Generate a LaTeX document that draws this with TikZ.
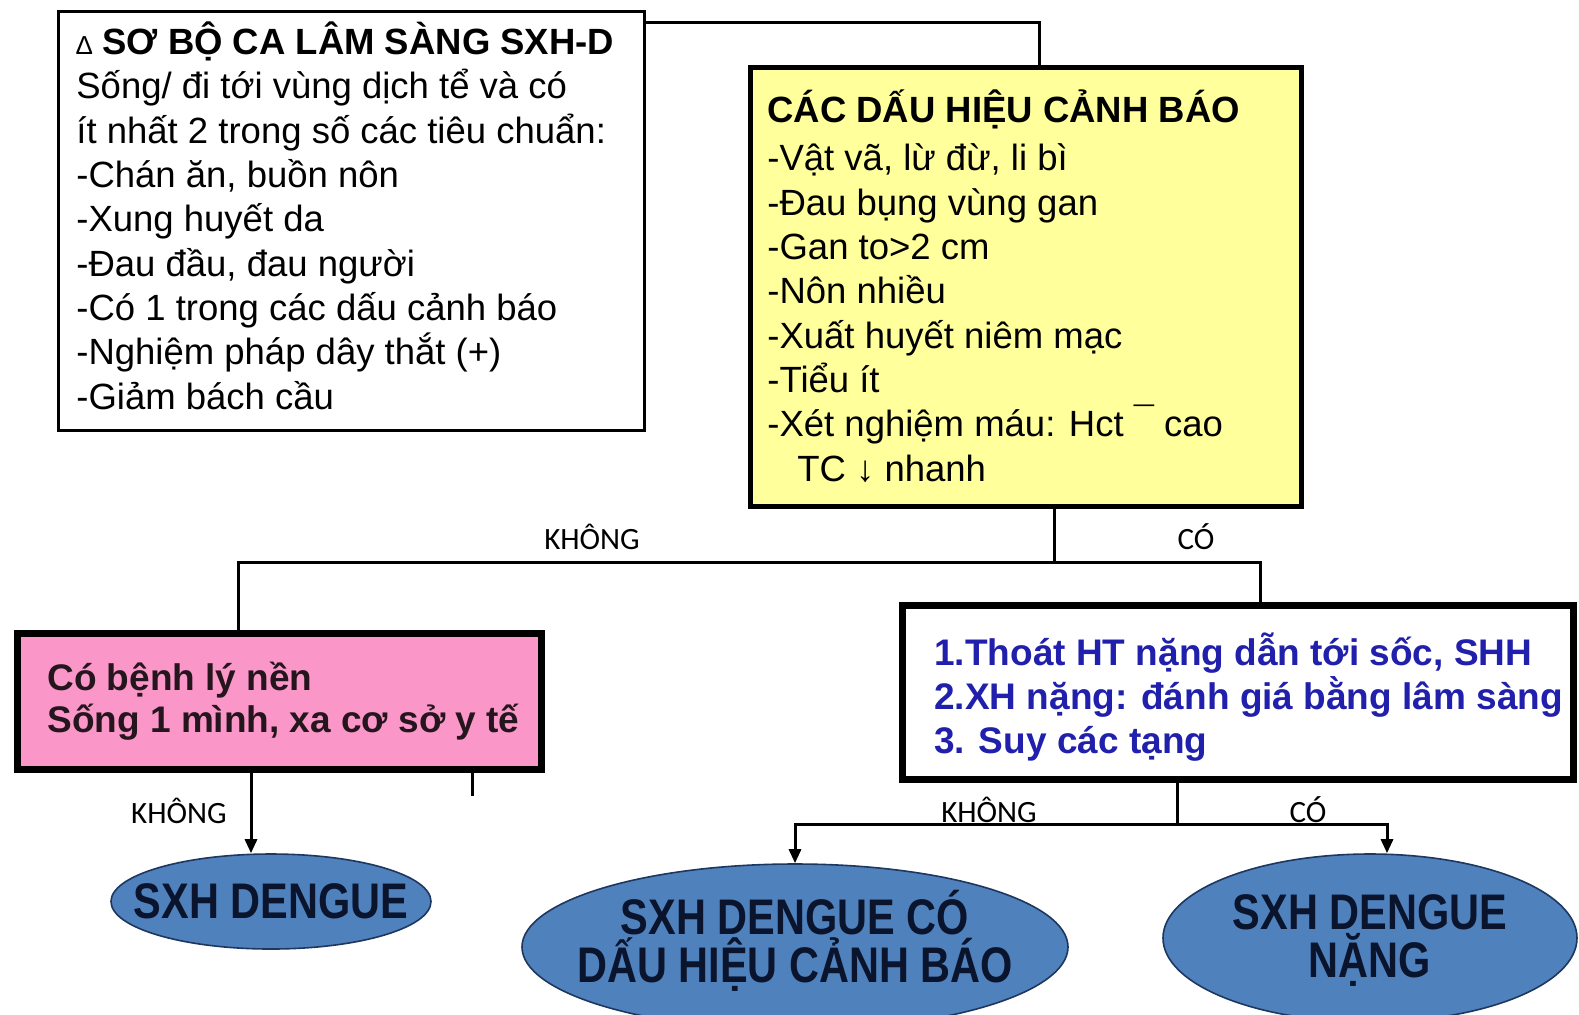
\documentclass[tikz,border=0pt]{standalone}
\usepackage{fontspec}
\setmainfont{Liberation Sans}
\newfontfamily\ellfont[FakeStretch=0.83]{Liberation Sans}
\newfontfamily\lblfont{Carlito}
\usetikzlibrary{arrows.meta,shapes.geometric}
\definecolor{yelfill}{RGB}{255,255,155}
\definecolor{pinkfill}{RGB}{250,150,200}
\definecolor{ellfill}{RGB}{79,129,189}
\definecolor{elledge}{RGB}{30,55,95}
\definecolor{elltext}{RGB}{10,20,45}
\definecolor{bluetext}{RGB}{32,32,172}
\tikzset{
  boxbase/.style={draw=black, rectangle, inner sep=0pt},
  conn/.style={draw=black, line width=1.5pt},
  arr/.style={conn, -{Triangle[length=7pt,width=6pt]}},
  boxtext/.style={anchor=base west, align=left, inner sep=0pt},
  ellnode/.style={ellipse, draw=elledge, line width=0.8pt, fill=ellfill, inner sep=0pt},
  elltxt/.style={inner sep=0pt, text=elltext, align=center, font=\ellfont\bfseries\fontsize{25pt}{24pt}\selectfont},
  lbl/.style={inner sep=0pt, font=\lblfont\fontsize{15.5pt}{16pt}\selectfont}
}
\begin{document}
\begin{tikzpicture}[x=0.5pt,y=-0.5pt]
\useasboundingbox (0,0) rectangle (1579,1014);
\clip (0,0) rectangle (1579,1014);
\fill[white] (0,0) rectangle (1579,1014);

% boxes
\node[boxbase, line width=1.5pt, fill=white, minimum width=293pt, minimum height=209.5pt] (b1) at (351,220.5) {};
\node[boxbase, line width=2.5pt, fill=yelfill, minimum width=275.5pt, minimum height=219.5pt] (yel) at (1026,287) {};
\node[boxbase, line width=3.5pt, fill=pinkfill, minimum width=262pt, minimum height=68pt] (pink) at (279.5,701.5) {};
\node[boxbase, line width=3.5pt, fill=white, minimum width=335.5pt, minimum height=87pt] (b2) at (1238,692.5) {};

% box texts (anchored at the baseline of the last line)
\node[boxtext, font=\fontsize{18.25pt}{22.15pt}\selectfont] (b1t) at (76,409)
{{\fontsize{13pt}{13pt}\selectfont ∆} \textbf{SƠ BỘ CA LÂM SÀNG SXH-D}\\
Sống/ đi tới vùng dịch tể và có\\
ít nhất 2 trong số các tiêu chuẩn:\\
-Chán ăn, buồn nôn\\
-Xung huyết da\\
-Đau đầu, đau người\\
-Có 1 trong các dấu cảnh báo\\
-Nghiệm pháp dây thắt (+)\\
-Giảm bách cầu};

\node[boxtext, font=\fontsize{18.25pt}{22.15pt}\selectfont] (yt) at (767,481)
{\textbf{CÁC DẤU HIỆU CẢNH BÁO}\\[2pt]
-Vật vã, lừ đừ, li bì\\
-Đau bụng vùng gan\\
-Gan to>2 cm\\
-Nôn nhiều\\
-Xuất huyết niêm mạc\\
-Tiểu ít\\
-Xét nghiệm máu: Hct \raisebox{2pt}{¯} cao\\
\hspace*{15pt}TC ↓ nhanh};

\node[boxtext, font=\bfseries\fontsize{18.5pt}{21pt}\selectfont, text=black!85!pinkfill] (pt) at (47,732)
{Có bệnh lý nền\\
Sống 1 mình, xa cơ sở y tế};

\node[boxtext, font=\bfseries\fontsize{18.5pt}{22pt}\selectfont, text=bluetext] (b2t) at (934,753)
{1.Thoát HT nặng dẫn tới sốc, SHH\\
2.XH nặng: đánh giá bằng lâm sàng\\
3. Suy các tạng};

% ellipses
\node[ellnode, minimum width=160pt, minimum height=47.5pt] (e1) at (271,901.5) {};
\node[ellnode, minimum width=273pt, minimum height=83pt] (e2) at (795,947) {};
\node[ellnode, minimum width=207pt, minimum height=84pt] (e3) at (1370,938) {};
\node[elltxt] (e1t) at (e1.center) {SXH DENGUE};
\node[elltxt] (e2t) at ([yshift=3pt]e2.center) {SXH DENGUE CÓ\\DẤU HIỆU CẢNH BÁO};
\node[elltxt] (e3t) at ([yshift=-1pt]e3.center) {SXH DENGUE\\NẶNG};

% junction coordinates
\coordinate (jt) at (1039,22);
\coordinate (j1) at (1054,562);
\coordinate (jl) at (238,562);
\coordinate (jr) at (1260,562);
\coordinate (ax) at (251,0);
\coordinate (sx) at (472,796);
\coordinate (j2) at (1177,824);
\coordinate (j3) at (1387,824);

% connectors
\draw[conn] (b1.east |- jt) -- (jt) -- (yel.north -| jt);
\draw[conn] (yel.south -| j1) -- (j1);
\draw[conn] (pink.north -| jl) |- (j1) -| (b2.north -| jr);
\draw[arr] (pink.south -| ax) -- (e1.north -| ax);
\draw[conn] (pink.south -| sx) -- (sx);
\draw[conn] (b2.south -| j2) -- (j2);
\draw[arr] (j2) -| (e2.north);
\draw[arr] (j2) -- (j3) -- (e3.north -| j3);

% labels
\node[lbl] (l1) at (592,537) {KHÔNG};
\node[lbl] (l2) at (1196,537) {CÓ};
\node[lbl] (l3) at (179,811) {KHÔNG};
\node[lbl] (l4) at (989,810) {KHÔNG};
\node[lbl] (l5) at (1308,810) {CÓ};
\end{tikzpicture}
\end{document}
